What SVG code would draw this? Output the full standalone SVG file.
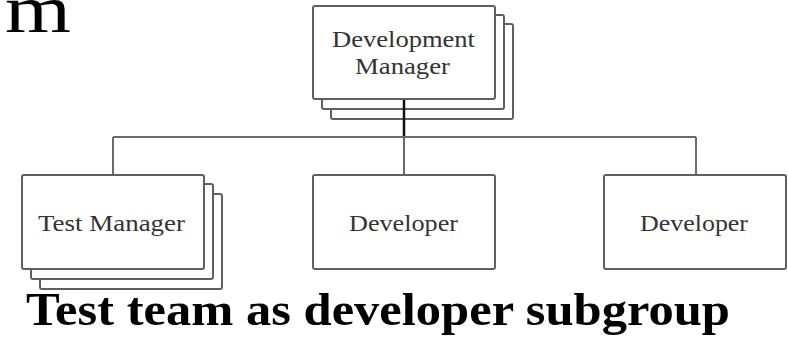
<svg xmlns="http://www.w3.org/2000/svg" width="788" height="338" viewBox="0 0 788 338">
<style>
.box{fill:#fff;stroke:#5f5f5f;stroke-width:2}
.lbl{font-family:"Liberation Serif","Times New Roman",serif;font-size:24px;fill:#333}
.conn{stroke:#6a6a6a;stroke-width:2;fill:none}
.stem{stroke:#111;stroke-width:2.5;fill:none}
</style>
<rect width="788" height="338" fill="#fff"/>
<text x="5" y="32" font-family="Liberation Serif, serif" font-size="68" textLength="66" lengthAdjust="spacingAndGlyphs" fill="#000">m</text>
<g id="dev-manager">
<rect class="box" x="331" y="24" width="182" height="95" rx="2"/>
<rect class="box" x="322" y="15" width="182" height="94" rx="2"/>
<rect class="box" x="313" y="6" width="182" height="93" rx="2"/>
<text class="lbl" x="332" y="47" textLength="143" lengthAdjust="spacingAndGlyphs">Development</text>
<text class="lbl" x="355" y="74" textLength="95" lengthAdjust="spacingAndGlyphs">Manager</text>
</g>
<g id="test-manager">
<rect class="box" x="40" y="194" width="182" height="95" rx="2"/>
<rect class="box" x="31" y="184" width="182" height="95" rx="2"/>
<rect class="box" x="22" y="175" width="182" height="94" rx="2"/>
<text class="lbl" x="38" y="231" textLength="147" lengthAdjust="spacingAndGlyphs">Test Manager</text>
</g>
<g id="developer-1">
<rect class="box" x="313" y="175" width="182" height="94" rx="2"/>
<text class="lbl" x="349" y="231" textLength="109" lengthAdjust="spacingAndGlyphs">Developer</text>
</g>
<g id="developer-2">
<rect class="box" x="604" y="175" width="182" height="94" rx="2"/>
<text class="lbl" x="640" y="231" textLength="108" lengthAdjust="spacingAndGlyphs">Developer</text>
</g>
<g id="connectors">
<line class="stem" x1="404" y1="100" x2="404" y2="137"/>
<line class="conn" x1="113" y1="137" x2="696" y2="137"/>
<line class="conn" x1="113" y1="137" x2="113" y2="174"/>
<line class="conn" x1="404" y1="138" x2="404" y2="174"/>
<line class="conn" x1="696" y1="137" x2="696" y2="174"/>
</g>
<text x="26" y="325" font-family="Liberation Serif, serif" font-size="47" font-weight="bold" textLength="704" lengthAdjust="spacingAndGlyphs" fill="#000">Test team as developer subgroup</text>
</svg>
